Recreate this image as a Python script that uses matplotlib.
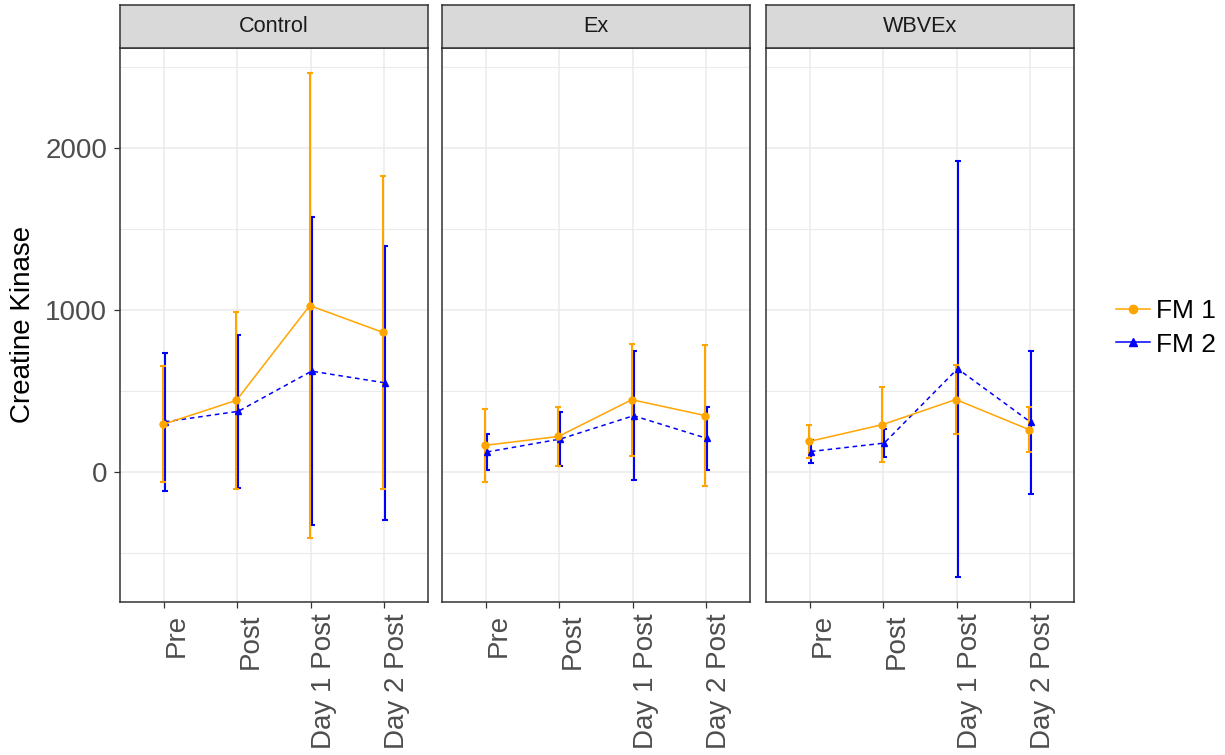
import numpy as np
import matplotlib
matplotlib.use('Agg')
import matplotlib.pyplot as plt
from matplotlib.lines import Line2D
from matplotlib.ticker import MultipleLocator

plt.rcParams['font.family'] = ['Liberation Sans', 'DejaVu Sans']

stages = ['Pre', 'Post', 'Day 1 Post', 'Day 2 Post']
groups = ['Control', 'Ex', 'WBVEx']
series = ['FM 1', 'FM 2']

# mean and SD of creatine kinase, one row per group
fm1_mean = [[292, 440, 1025, 859],
            [162, 217, 444, 346],
            [186, 290, 445, 259]]
fm1_sd = [[358, 548, 1434, 968],
          [226, 182, 345, 433],
          [103, 233, 214, 137]]
fm2_mean = [[307, 372, 620, 548],
            [121, 201, 345, 205],
            [124, 176, 635, 304]]
fm2_sd = [[427, 471, 951, 846],
          [110, 166, 398, 194],
          [70, 85, 1284, 442]]

W, H = 1225, 755
panel_left = [120, 442, 766]
panel_w = 308
panel_top, panel_bottom = 48, 602
strip_top = 5

GREY_TXT = '#4D4D4D'
DARK = '#333333'
GRID = '#EBEBEB'
styles = [
    dict(color='orange', marker='o', ls='-', dx=-0.012),
    dict(color='blue', marker='^', ls=(0, (3, 2.5)), dx=0.012),
]

fig = plt.figure(figsize=(W / 100, H / 100), dpi=100)

x = np.arange(1, len(stages) + 1)
for gi, group in enumerate(groups):
    ax = fig.add_axes([panel_left[gi] / W, 1 - panel_bottom / H,
                       panel_w / W, (panel_bottom - panel_top) / H])
    for si, (means, sds) in enumerate([(fm1_mean, fm1_sd), (fm2_mean, fm2_sd)]):
        st = styles[si]
        xs = x + st['dx']
        ax.errorbar(xs, means[gi], yerr=sds[gi], fmt='none',
                    ecolor=st['color'], elinewidth=1.5, capsize=2.5,
                    capthick=1.5, zorder=3 - si)
        ax.plot(xs, means[gi], color=st['color'], ls=st['ls'], lw=1.1,
                marker=st['marker'], markersize=5, zorder=4 - si)
    ax.set_xlim(0.4, 4.6)
    ax.set_ylim(-805, 2615)
    ax.set_xticks(x)
    ax.set_xticklabels(stages, rotation=90, ha='left', va='top',
                       fontsize=20, color=GREY_TXT)
    ax.yaxis.set_major_locator(MultipleLocator(1000))
    ax.yaxis.set_minor_locator(MultipleLocator(500))
    ax.grid(True, which='major', color=GRID, lw=1.1, zorder=0)
    ax.grid(True, which='minor', axis='y', color=GRID, lw=0.8, zorder=0)
    ax.set_axisbelow(True)
    ax.tick_params(which='major', length=4.3, width=0.9, color=DARK,
                   pad=4)
    ax.tick_params(axis='y', which='minor', length=0)
    ax.tick_params(axis='y', labelsize=20, labelcolor=GREY_TXT, pad=5)
    if gi > 0:
        ax.tick_params(axis='y', which='major', length=0, labelleft=False)
    for sp in ax.spines.values():
        sp.set_color(DARK)
        sp.set_linewidth(1.1)

    # facet strip
    sax = fig.add_axes([panel_left[gi] / W, 1 - panel_top / H,
                        panel_w / W, (panel_top - strip_top) / H])
    sax.set_facecolor('#D9D9D9')
    sax.set_xticks([])
    sax.set_yticks([])
    for sp in sax.spines.values():
        sp.set_color(DARK)
        sp.set_linewidth(1.1)
    sax.text(0.5, 0.5, group, ha='center', va='center', fontsize=15.6,
             color='#1A1A1A', transform=sax.transAxes)

fig.text(23 / W, 1 - 324.5 / H, 'Creatine Kinase', rotation=90,
         ha='center', va='center', fontsize=20, color='black')

handles = [Line2D([], [], color=st['color'], marker=st['marker'], lw=1.1,
                  markersize=6) for st in styles]
fig.legend(handles, series, loc='center left',
           bbox_to_anchor=(1116 / W, 1 - 328 / H), frameon=False,
           fontsize=19, handlelength=1.3, handletextpad=0.2,
           labelspacing=0.35, borderpad=0, borderaxespad=0)

fig.savefig('out.png', dpi=100)
